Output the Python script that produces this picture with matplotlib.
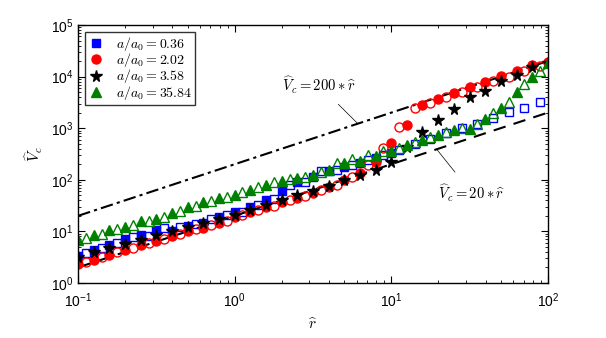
import numpy as np
import matplotlib
matplotlib.use("Agg")
import matplotlib.pyplot as plt

plt.rcParams['font.family'] = ['Liberation Sans', 'DejaVu Sans']
# tick labels in a Helvetica-like face, equations in Computer Modern
plt.rcParams['mathtext.fontset'] = 'custom'
plt.rcParams['mathtext.rm'] = 'Liberation Sans'
plt.rcParams['mathtext.it'] = 'Liberation Sans:italic'
plt.rcParams['mathtext.bf'] = 'Liberation Sans:bold'

# sample positions (filled markers / open markers)
x_fill = [0.1, 0.126, 0.158, 0.2, 0.251, 0.316, 0.398, 0.501, 0.631, 0.794,
          1.0, 1.26, 1.58, 2.0, 2.51, 3.16, 3.98, 5.01, 6.31, 7.94,
          10, 12.6, 15.8, 20, 25.1, 31.6, 39.8, 50.1, 63.1, 79.4, 100]
x_open = [0.112, 0.141, 0.178, 0.224, 0.282, 0.355, 0.447, 0.562, 0.708, 0.891,
          1.12, 1.41, 1.78, 2.24, 2.82, 3.55, 4.47, 5.62, 7.08, 8.91,
          11.2, 14.1, 17.8, 22.4, 28.2, 35.5, 44.7, 56.2, 70.8, 89.1]

# a/a0 = 0.36 (blue squares)
blue_fill = [3.31, 4.37, 5.50, 7.08, 8.51, 10.7, 10.2, 12.6, 14.8, 18.6,
             24.0, 30.2, 39.8, 60.3, 89.1, 112, 145, 178, 214, 263, 331]
blue_open = [3.76, 4.68, 6.03, 7.76, 8.13, 11.5, 12.0, 13.8, 17.0, 20.9,
             24.0, 32.4, 41.7, 77.6, 91.2, 148, 158, 195, 240, 302,
             380, 490, 610, 794, 1000, 1230, 1585, 2089, 2512, 3236]
# a/a0 = 2.02 (red circles)
red_fill = [2.29, 2.82, 3.47, 4.37, 5.37, 6.61, 8.13, 10.0, 11.7, 14.8,
            18.6, 23.4, 29.5, 36.3, 44.7, 55.0, 70.8, 100, 138, 224,
            513, 1175, 2818, 3715, 4786, 6166, 7943, 10233, 12882, 16596, 19498]
red_open = [2.57, 3.16, 3.89, 4.79, 5.89, 7.24, 8.91, 11.0, 13.2, 16.2,
            20.4, 25.7, 31.6, 39.8, 49.0, 63.1, 79.4, 115, 195, 407,
            1047, 2427, 3020, 3981, 5012, 6166, 8318, 10000, 12882, 15849]
# a/a0 = 3.58 (black stars)
black_fill = [3.24, 3.89, 4.68, 5.75, 6.76, 8.32, 10.0, 12.0, 14.5, 17.4,
              20.9, 25.7, 33.1, 40.7, 50.1, 60.3, 74.1, 97.7, 126, 158,
              219, 437, 832, 1445, 2344, 3981, 5370, 8128, 10715, 15136, 18621]
# a/a0 = 35.84 (green triangles)
green_fill = [6.76, 8.51, 10.7, 12.3, 15.8, 17.0, 22.9, 29.5, 36.3, 43.7,
              51.3, 64.6, 79.4, 95.5, 110, 123, 158, 209, 234, 288,
              363, 468, 589, 741, 923, 955, 1479, 2512, 5129, 10000, 18197]
green_open = [7.41, 8.91, 11.2, 13.5, 15.8, 18.6, 25.1, 31.6, 38.0, 45.7,
              57.5, 70.8, 89.1, 102, 115, 141, 209, 251, 302, 355,
              417, 537, 676, 832, 1000, 1230, 1950, 3236, 7079, 12882]

labels = [r'$a/a_0 = 0.36$', r'$a/a_0 = 2.02$', r'$a/a_0 = 3.58$', r'$a/a_0 = 35.84$']
line_x = [0.1, 100]

fig = plt.figure(figsize=(6.06, 3.38), dpi=100)
ax = fig.add_axes([0.129, 0.163, 0.775, 0.763])

lx = np.array(line_x)
ax.plot(lx, 200 * lx, color='k', ls=(0, (6, 2, 1.5, 2)), lw=1.5, zorder=1)
ax.plot(lx, 20 * lx, color='k', ls=(0, (6, 4)), lw=1.5, zorder=1)

blue = (0, 0, 1)
red = (1, 0, 0)
green = (0, 0.5, 0)

ax.plot(x_fill[:len(blue_fill)], blue_fill, 's', color=blue, ms=5.5, ls='none', label=labels[0])
ax.plot(x_open, blue_open, 's', mfc='none', mec=blue, mew=1, ms=5.5, ls='none')
ax.plot(x_fill, red_fill, 'o', color=red, ms=6.5, ls='none', label=labels[1])
ax.plot(x_open, red_open, 'o', mfc='none', mec=red, mew=1, ms=6.5, ls='none')
ax.plot(x_fill, black_fill, '*', color='k', ms=8.5, ls='none', label=labels[2])
ax.plot(x_fill, green_fill, '^', color=green, ms=7, ls='none', label=labels[3])
ax.plot(x_open, green_open, '^', mfc='none', mec=green, mew=1, ms=7, ls='none')

ax.set_xscale('log')
ax.set_yscale('log')
ax.set_xlim(0.1, 100)
ax.set_ylim(1, 1e5)
ax.tick_params(which='both', direction='in', top=True, right=True, labelsize=10)
ax.tick_params(which='major', length=5, width=0.8)
ax.tick_params(which='minor', length=2.5, width=0.6)
ax.tick_params(axis='x', which='major', pad=6)
for s in ax.spines.values():
    s.set_linewidth(1.0)

xl = ax.set_xlabel(r'$\widehat{r}$', fontsize=11, labelpad=5)
yl = ax.set_ylabel(r'$\widehat{V}_c$', fontsize=11, labelpad=4)
xl.set_math_fontfamily('cm')
yl.set_math_fontfamily('cm')

leg = ax.legend(loc='upper left', fontsize=10, frameon=True, fancybox=False,
                edgecolor='k', handlelength=1.2, handletextpad=0.8,
                borderpad=0.2, labelspacing=-0.12, borderaxespad=0.5)
leg.get_frame().set_linewidth(1.0)
for t in leg.get_texts():
    t.set_math_fontfamily('cm')

a1 = ax.annotate(r'$\widehat{V}_c = 200*\widehat{r}$', xy=(6.1, 1230), xytext=(3.45, 6870),
                 fontsize=10.5, ha='center', va='center',
                 arrowprops=dict(arrowstyle='-', color='k', lw=0.5, shrinkA=6, shrinkB=0))
a2 = ax.annotate(r'$\widehat{V}_c = 20*\widehat{r}$', xy=(19.5, 390), xytext=(32.7, 55),
                 fontsize=10.5, ha='center', va='center',
                 arrowprops=dict(arrowstyle='-', color='k', lw=0.5, shrinkA=7, shrinkB=0))
a1.set_math_fontfamily('cm')
a2.set_math_fontfamily('cm')

fig.savefig('out.png', dpi=100)
